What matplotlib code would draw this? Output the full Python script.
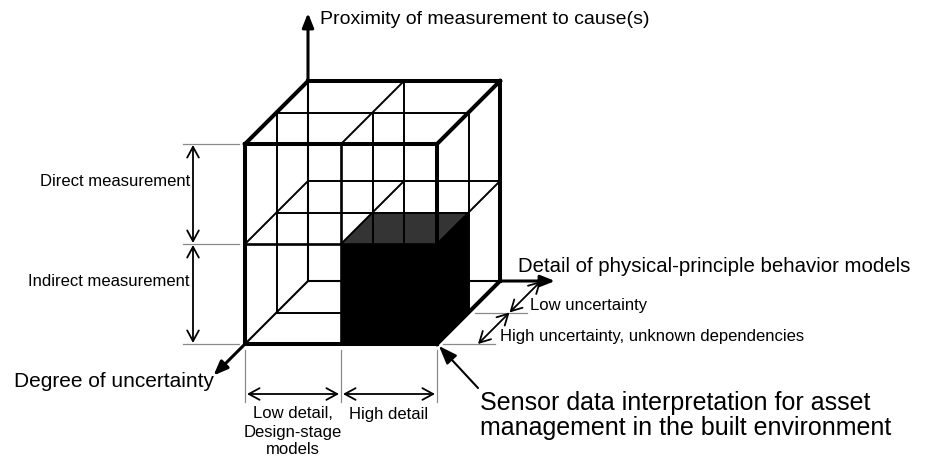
import itertools
import matplotlib
matplotlib.use('Agg')
import matplotlib.pyplot as plt
from matplotlib.patches import Polygon

plt.rcParams['font.family'] = ['Liberation Sans', 'DejaVu Sans']

# cube is split 2 x 2 x 2 (i = detail, j = uncertainty/depth, k = proximity)
grid = [0, 1, 2]
highlight = (1, 0, 0)  # the black cell: high detail, low j, indirect

axis_labels = ['Proximity of measurement to cause(s)',
               'Detail of physical-principle behavior models',
               'Degree of uncertainty']
left_labels = ['Indirect measurement', 'Direct measurement']
bottom_labels = [['Low detail,', 'Design-stage', 'models'], ['High detail']]
depth_labels = ['High uncertainty, unknown dependencies', 'Low uncertainty']
callout = ['Sensor data interpretation for asset',
           'management in the built environment']

# layout (pixels)
X0, Y0 = 245, 344
CW, CH, DP = 96, 100, 31.5


def P(i, j, k):
    return (X0 + i * CW + j * DP, Y0 - k * CH - j * DP)


fig = plt.figure(figsize=(9.25, 4.59), dpi=100)
ax = fig.add_axes([0, 0, 1, 1])
ax.set_xlim(0, 925)
ax.set_ylim(459, 0)
ax.axis('off')

n = grid[-1]
back_corner = (0, n, 0)

# wireframe
for axis in range(3):
    others = [a for a in range(3) if a != axis]
    for u, v in itertools.product(grid, grid):
        c0 = [0, 0, 0]
        c0[others[0]], c0[others[1]] = u, v
        c1 = list(c0)
        c0[axis], c1[axis] = grid[0], grid[-1]
        outer = u in (0, n) and v in (0, n)
        hidden = all(c0[a] == back_corner[a] for a in others)
        if outer and not hidden:
            lw, z = 2.9, 4
        elif outer:
            lw, z = 1.5, 2
        elif (axis != 1 and c0[1] == 0):
            lw, z = 1.9, 2
        else:
            lw, z = 1.4, 2
        xa, ya = P(*c0)
        xb, yb = P(*c1)
        ax.plot([xa, xb], [ya, yb], color='black', lw=lw, zorder=z,
                solid_capstyle='projecting')

# highlighted cell
i, j, k = highlight
front = [P(i, j, k), P(i + 1, j, k), P(i + 1, j, k + 1), P(i, j, k + 1)]
side = [P(i + 1, j, k), P(i + 1, j + 1, k), P(i + 1, j + 1, k + 1), P(i + 1, j, k + 1)]
top = [P(i, j, k + 1), P(i + 1, j, k + 1), P(i + 1, j + 1, k + 1), P(i, j + 1, k + 1)]
ax.add_patch(Polygon(top, closed=True, fc='#343434', ec='none', zorder=1))
ax.add_patch(Polygon(front, closed=True, fc='black', ec='none', zorder=3))
ax.add_patch(Polygon(side, closed=True, fc='black', ec='none', zorder=3))

# axes arrows
head = dict(arrowstyle='-|>,head_length=0.5,head_width=0.2', color='black',
            shrinkA=0, shrinkB=0, mutation_scale=17)
sx, sy = P(0, n, n)
ax.annotate('', xy=(sx, 13), xytext=(sx, sy), arrowprops=dict(lw=2.2, **head))
hx, hy = P(n, n, 0)
ax.annotate('', xy=(hx + 55, hy), xytext=(hx, hy), arrowprops=dict(lw=2.2, **head))
dx0, dy0 = P(0, 0, 0)
dx1, dy1 = P(0, -1, 0)
ax.annotate('', xy=(dx1, dy1), xytext=(dx0, dy0), arrowprops=dict(lw=2.2, **head))

ax.text(sx + 12, 20, axis_labels[0], fontsize=14, va='center', ha='left')
ax.text(hx + 18, hy - 14, axis_labels[1], fontsize=14.7, va='center', ha='left')
ax.text(dx1, dy1 + 6, axis_labels[2], fontsize=15, va='center', ha='right')

dim = dict(arrowstyle='<->,head_length=0.55,head_width=0.3', color='black',
           lw=1.3, shrinkA=0, shrinkB=0, mutation_scale=14)
ext = dict(color='#8a8a8a', lw=0.9)

# left dimensions (proximity)
for kk in grid:
    _, y = P(0, 0, kk)
    ax.plot([X0 - 62, X0 - 6], [y, y], **ext)
for kk, lab in enumerate(left_labels):
    _, ya = P(0, 0, kk)
    _, yb = P(0, 0, kk + 1)
    ax.annotate('', xy=(X0 - 52, yb + 1), xytext=(X0 - 52, ya - 1), arrowprops=dim)
    ax.text(X0 - 55, (ya + yb) / 2 - 13, lab, fontsize=12, ha='right', va='center')

# bottom dimensions (detail)
for ii in grid:
    x, _ = P(ii, 0, 0)
    ax.plot([x, x], [Y0 + 6, Y0 + 58], **ext)
for ii, lines in enumerate(bottom_labels):
    xa, _ = P(ii, 0, 0)
    xb, _ = P(ii + 1, 0, 0)
    ax.annotate('', xy=(xb - 2, Y0 + 50), xytext=(xa + 2, Y0 + 50), arrowprops=dim)
    for m, line in enumerate(lines):
        ax.text((xa + xb) / 2, Y0 + 70 + m * 18, line, fontsize=12,
                ha='center', va='center')

# depth dimensions (uncertainty)
for jj in grid[:-1]:
    x, y = P(n, jj, 0)
    ax.plot([x + 6, x + 58], [y, y], **ext)
for jj, lab in enumerate(depth_labels):
    xa, ya = P(n, jj, 0)
    xb, yb = P(n, jj + 1, 0)
    ax.annotate('', xy=(xb + 41, yb), xytext=(xa + 41, ya), arrowprops=dim)
    ax.text(xa + 63 - 2 * jj, ya - 7, lab, fontsize=12, ha='left', va='center')

# callout
cx, cy = P(n, 0, 0)
ax.annotate('', xy=(cx + 2, cy + 2), xytext=(cx + 41, cy + 44),
            arrowprops=dict(arrowstyle='-|>,head_length=0.8,head_width=0.3',
                            color='black', lw=1.5, shrinkA=0, shrinkB=0,
                            mutation_scale=14))
for m, line in enumerate(callout):
    ax.text(cx + 43, cy + 59 + m * 25, line, fontsize=18, ha='left', va='center')

fig.savefig('out.png', dpi=100, facecolor='white')
